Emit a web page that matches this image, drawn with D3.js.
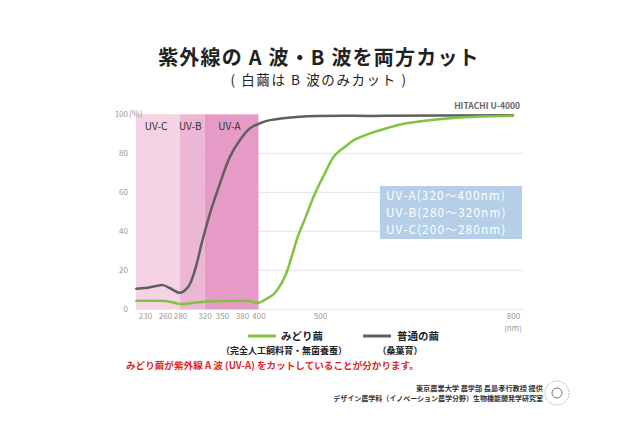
<!DOCTYPE html>
<html><head><meta charset="utf-8">
<script src="https://cdn.jsdelivr.net/npm/d3@7"></script>
<style>
html,body{margin:0;padding:0;background:#fff;}
svg{display:block;}
text{font-family:"Noto Sans CJK JP","Noto Sans",sans-serif;}
</style></head>
<body>
<svg id="c" width="640" height="442"></svg>
<script>
// ---- data ----
const xTicks = [230, 260, 280, 320, 350, 380, 400, 500, 800];
const yTicks = [0, 20, 40, 60, 80, 100];
const gridTicks = [0, 20, 40, 60, 80];
const bandNames = ["UV-C", "UV-B", "UV-A"];
const bandFrom = [200, 280, 320];
const bandTo = [280, 320, 400];
const infoLines = ["UV-A(320～400nm)", "UV-B(280～320nm)", "UV-C(200～280nm)"];
const seriesNames = ["みどり繭", "普通の繭"];
const seriesNotes = ["（完全人工飼料育・無菌養蚕）", "（桑葉育）"];
const greenWl = [217, 235, 260, 270, 280, 300, 320, 350, 380, 392, 399, 410, 426, 443, 454, 464, 475, 492, 508, 523, 539, 554, 580, 598, 625, 677, 729, 800];
const greenVal = [4.4, 4.4, 4.3, 3.6, 2.7, 3.2, 3.9, 4.3, 4.4, 4.0, 3.2, 4.8, 8.2, 16.8, 27, 37.4, 46, 59.5, 70, 79, 83.4, 87, 90.5, 92.3, 94.8, 97.2, 98.6, 99.3];
const grayWl = [217, 230, 245, 257, 267, 280, 293.5, 304.5, 315.4, 329.4, 346.6, 362, 377, 389.7, 402.4, 418.7, 467, 600, 800];
const grayVal = [10.6, 10.9, 11.8, 12.4, 10.8, 8.5, 11.6, 20.2, 33.8, 49.2, 64.6, 78.3, 86.8, 92.8, 95.4, 97, 98.8, 99.2, 99.5];

// ---- layout ----
const svg = d3.select("#c");
const plotL = 136, plotR = 523, plotT = 114.3, plotB = 309.3;
const x = d3.scaleLinear()
  .domain(xTicks)
  .range([145, 165, 180, 204.5, 222, 242, 258.5, 320, 513]);
const y = d3.scaleLinear().domain([0, 100]).range([plotB, plotT]);
const bandColors = ["#f5d3e5", "#ecb6d5", "#e69bc6"];
const cGreen = "#80c341", cGray = "#5f5f5f";

// title
svg.append("text").attr("x", 319).attr("y", 64.5).attr("text-anchor", "middle")
  .attr("font-size", 20).attr("font-weight", 700).attr("fill", "#222")
  .attr("letter-spacing", 1.2)
  .text("紫外線の A 波・B 波を両方カット");
svg.append("text").attr("x", 319).attr("y", 85).attr("text-anchor", "middle")
  .attr("font-size", 13.5).attr("fill", "#222").attr("letter-spacing", 1.6)
  .text("( 白繭は B 波のみカット )");

// gridlines
svg.append("g").selectAll("line").data(gridTicks).join("line")
  .attr("x1", plotL).attr("x2", plotR)
  .attr("y1", d => y(d)).attr("y2", d => y(d))
  .attr("stroke", "#e4e4e4").attr("stroke-width", 1);

// bands
const bands = bandNames.map((n, i) => ({name: n, from: bandFrom[i], to: bandTo[i], color: bandColors[i]}));
const bx0 = d => Math.max(plotL, x(d.from));
svg.append("g").selectAll("rect").data(bands).join("rect")
  .attr("x", bx0)
  .attr("width", d => x(d.to) - bx0(d))
  .attr("y", plotT).attr("height", plotB - plotT)
  .attr("fill", d => d.color);
svg.append("g").selectAll("text").data(bands).join("text")
  .attr("x", d => (bx0(d) + x(d.to)) / 2 - 2)
  .attr("text-anchor", "middle")
  .attr("y", 129.5).attr("font-size", 10).attr("fill", "#333")
  .text(d => d.name);

// y axis labels
const yAx = svg.append("g").attr("transform", `translate(128,0)`)
  .call(d3.axisLeft(y).tickValues(yTicks).tickSize(0).tickPadding(0));
yAx.select(".domain").remove();
yAx.selectAll("text").attr("font-size", 8).attr("fill", "#999")
  .attr("font-family", "Roboto,sans-serif");
svg.append("text").attr("x", 129).attr("y", y(100) + 3).attr("font-size", 8.5)
  .attr("fill", "#999").text("(%)");

// x axis labels
const xAx = svg.append("g").attr("transform", `translate(0,${plotB + 4.5})`)
  .call(d3.axisBottom(x).tickValues(xTicks).tickSize(0).tickPadding(0).tickFormat(d3.format("d")));
xAx.select(".domain").remove();
xAx.selectAll("text").attr("font-size", 8).attr("fill", "#999")
  .attr("font-family", "Roboto,sans-serif");
svg.append("text").attr("x", x(800)).attr("y", 330.5).attr("text-anchor", "middle")
  .attr("font-size", 8).attr("font-family", "Roboto,sans-serif")
  .attr("fill", "#999").text("(nm)");

// lines
const line = d3.line().x(d => x(d[0])).y(d => y(d[1])).curve(d3.curveCatmullRom.alpha(0.5));
const grayPts = grayWl.map((w, i) => [w, grayVal[i]]);
const greenPts = greenWl.map((w, i) => [w, greenVal[i]]);
svg.append("path").attr("d", line(grayPts)).attr("fill", "none")
  .attr("stroke", cGray).attr("stroke-width", 2.5).attr("stroke-linecap", "round");
svg.append("path").attr("d", line(greenPts)).attr("fill", "none")
  .attr("stroke", cGreen).attr("stroke-width", 2.5).attr("stroke-linecap", "round");

// HITACHI label
svg.append("text").attr("x", 520).attr("y", 109).attr("text-anchor", "end")
  .attr("font-size", 8.5).attr("font-weight", 700).attr("fill", "#666")
  .text("HITACHI U-4000");

// info box
svg.append("rect").attr("x", 380).attr("y", 186).attr("width", 142).attr("height", 53)
  .attr("fill", "#b4cfe7");
svg.append("g").selectAll("text").data(infoLines).join("text")
  .attr("x", 386).attr("y", (d, i) => 199.8 + i * 17.2)
  .attr("font-size", 11.8).attr("letter-spacing", 1.1).attr("fill", "#fff").text(d => d);

// legend
const legX = [248, 363], legTx = [281, 397], noteX = [284, 400];
const legColors = [cGreen, cGray];
seriesNames.forEach((n, i) => {
  svg.append("line").attr("x1", legX[i]).attr("x2", legX[i] + 28)
    .attr("y1", 336).attr("y2", 336).attr("stroke", legColors[i]).attr("stroke-width", 3);
  svg.append("text").attr("x", legTx[i]).attr("y", 340).attr("font-size", 10.5)
    .attr("font-weight", 700).attr("fill", "#222").text(n);
  svg.append("text").attr("x", noteX[i]).attr("y", 354).attr("text-anchor", "middle")
    .attr("font-size", 9).attr("font-weight", 700).attr("fill", "#222").text(seriesNotes[i]);
});

// red note
svg.append("text").attr("x", 126).attr("y", 369).attr("font-size", 9.6)
  .attr("font-weight", 700).attr("fill", "#e5232a")
  .text("みどり繭が紫外線 A 波 (UV-A) をカットしていることが分かります。");

// credits
svg.append("text").attr("x", 543).attr("y", 391).attr("text-anchor", "end")
  .attr("font-size", 7.2).attr("font-weight", 700).attr("fill", "#333")
  .text("東京農業大学 農学部 長島孝行教授 提供");
svg.append("text").attr("x", 543).attr("y", 401).attr("text-anchor", "end")
  .attr("font-size", 7).attr("font-weight", 700).attr("fill", "#333")
  .text("デザイン農学科（イノベーション農学分野）生物機能開発学研究室");

// seal
const seal = svg.append("g").attr("transform", "translate(557,393)");
seal.append("circle").attr("r", 12).attr("fill", "none").attr("stroke", "#aaa")
  .attr("stroke-width", 0.8).attr("stroke-dasharray", "2,1");
seal.append("circle").attr("r", 5).attr("fill", "none").attr("stroke", "#777").attr("stroke-width", 1);
</script>
</body></html>
